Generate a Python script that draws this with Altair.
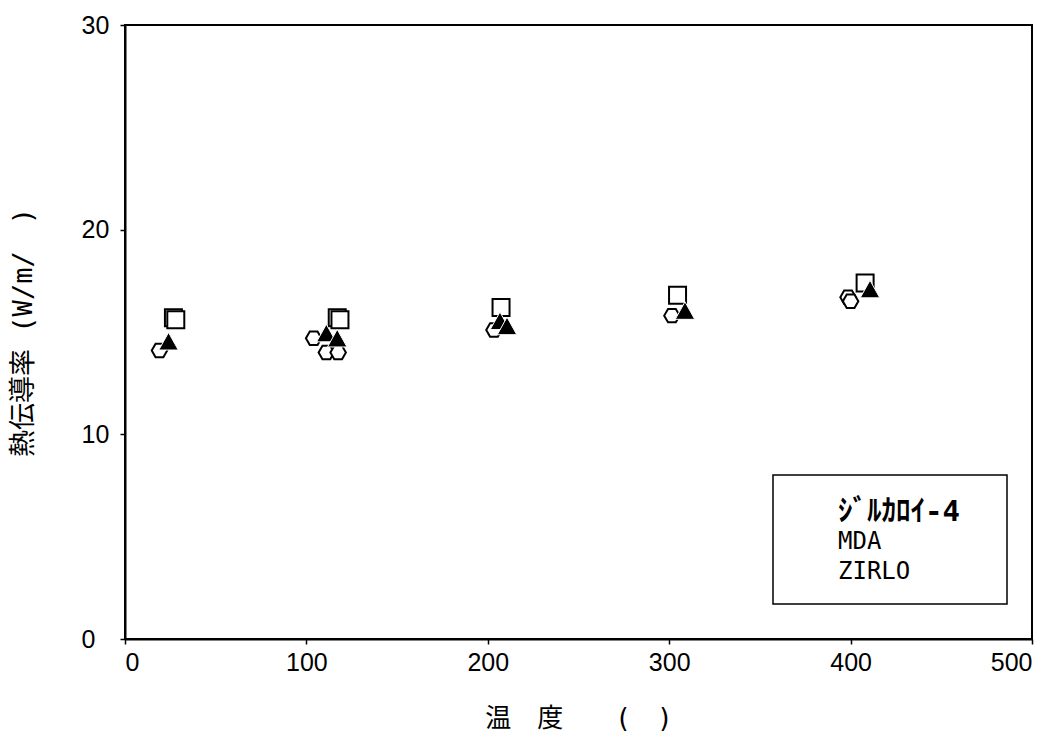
import altair as alt
import pandas as pd

# Series names as they appear in the legend
series_names = ["ｼﾞﾙｶﾛｲ-4", "MDA", "ZIRLO"]

# Thermal conductivity (W/m/K) vs temperature (°C) for each alloy
zry4_temp = [26.7, 28.0, 117.0, 118.5, 207.3, 304.6, 408.0]
zry4_k = [15.7, 15.6, 15.7, 15.6, 16.2, 16.8, 17.4]

mda_temp = [19.0, 104.0, 111.0, 117.5, 203.4, 301.5, 398.6, 400.0]
mda_k = [14.1, 14.7, 14.0, 14.0, 15.1, 15.8, 16.7, 16.5]

zirlo_temp = [24.0, 111.0, 117.0, 206.7, 210.6, 308.7, 410.7]
zirlo_k = [14.5, 14.9, 14.65, 15.5, 15.25, 16.0, 17.05]

x_ticks = [0, 100, 200, 300, 400, 500]
y_ticks = [0, 10, 20, 30]

series_data = {
    series_names[0]: (zry4_temp, zry4_k),
    series_names[1]: (mda_temp, mda_k),
    series_names[2]: (zirlo_temp, zirlo_k),
}

hexagon = "M-0.5,-0.87L0.5,-0.87L1,0L0.5,0.87L-0.5,0.87L-1,0Z"
triangle = "M0,-1L-1,0.8L1,0.8Z"

# marker style per series: open square, open hexagon, filled triangle
marker_styles = {
    series_names[0]: dict(shape="square", size=289, fill="white", stroke="black", strokeWidth=2),
    series_names[1]: dict(shape=hexagon, size=240, fill="white", stroke="black", strokeWidth=2),
    series_names[2]: dict(shape=triangle, size=380, fill="black", stroke="white", strokeWidth=1),
}

mono_cjk = "DejaVu Sans Mono, Noto Sans CJK JP"

x_enc = alt.X(
    "temp:Q",
    scale=alt.Scale(domain=[0, 500], nice=False),
    axis=alt.Axis(values=x_ticks, title="温　度　　(　)", titlePadding=30,
                  labelPadding=6, titleFontSize=26),
)
y_enc = alt.Y(
    "k:Q",
    scale=alt.Scale(domain=[0, 30], nice=False),
    axis=alt.Axis(values=y_ticks, title="熱伝導率 (W/m/　)", titlePadding=44,
                  labelPadding=39, labelAlign="left", titleFontSize=27),
)

layers = []
for name in series_names:
    temps, ks = series_data[name]
    df = pd.DataFrame({"temp": temps, "k": ks, "series": name})
    layers.append(
        alt.Chart(df).mark_point(filled=True, opacity=1, **marker_styles[name])
        .encode(x=x_enc, y=y_enc)
    )

# legend box with the series names
legend_box = alt.Chart(pd.DataFrame({"series": [series_names[0]]})).mark_rect(
    fill="white", stroke="black", strokeWidth=1.5
).encode(
    x=alt.value(648), x2=alt.value(882), y=alt.value(450), y2=alt.value(579)
)
layers.append(legend_box)

legend_rows_y = [487, 517, 547]
legend_font_sizes = [29, 24, 24]
for name, ry, fs in zip(series_names, legend_rows_y, legend_font_sizes):
    layers.append(
        alt.Chart(pd.DataFrame({"series": [name]})).mark_text(
            align="left", baseline="middle", fontSize=fs,
            font=mono_cjk, color="black",
            fontWeight="bold" if name == series_names[0] else "normal",
        ).encode(text="series:N", x=alt.value(713), y=alt.value(ry))
    )

chart = alt.layer(*layers).properties(
    width=907,
    height=614,
    autosize=alt.AutoSizeParams(type="none"),
    padding={"left": 125, "top": 25, "right": 28, "bottom": 103},
).configure_view(
    stroke="black", strokeWidth=2
).configure_axis(
    grid=False,
    domainColor="black",
    domainWidth=2,
    tickColor="black",
    tickSize=5,
    tickWidth=1.5,
    labelFont="Liberation Sans",
    labelFontSize=25,
    labelColor="black",
    titleFont=mono_cjk,
    titleFontWeight="normal",
    titleColor="black",
)

chart.save("out.html", embed_options={"renderer": "svg", "actions": False})
